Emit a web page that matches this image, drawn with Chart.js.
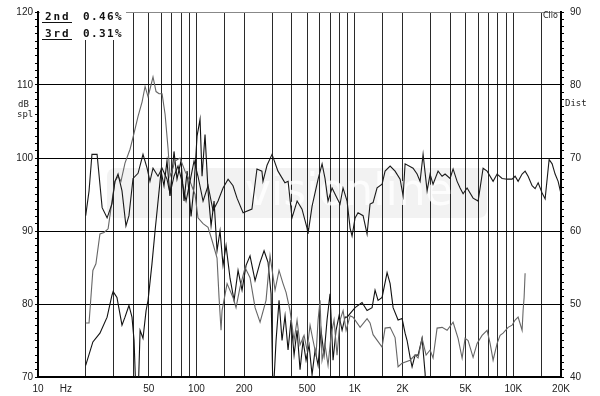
<!DOCTYPE html>
<html>
<head>
<meta charset="utf-8">
<script src="https://cdn.jsdelivr.net/npm/chart.js@4.4.1/dist/chart.umd.min.js"></script>
<style>
  html, body { margin: 0; padding: 0; background: #fff; }
  #wrap { width: 600px; height: 396px; }
</style>
</head>
<body>
<div id="wrap"><canvas id="clio"></canvas></div>
<script>
// frequency response (dB spl, left axis)
const respFreq = [20, 21, 21.9, 23.6, 25.4, 27.3, 29.3, 30.6, 32, 33.9,
  35.9, 37.5, 39.8, 42.8, 46, 48.8, 50.9, 53.2, 57.2, 60.7,
  65.2, 68.1, 72.2, 76.5, 81.1, 86, 91.1, 96.6, 102.3, 110.1,
  118.4, 127.3, 136.9, 147.2, 158.4, 170.2, 180.4, 197, 224, 241,
  259, 263, 279, 300, 327, 362, 379, 401, 432, 464,
  499, 506, 537, 586, 621, 648, 677, 718, 772, 806,
  842, 893, 933, 960, 1003, 1047, 1127, 1194, 1247, 1303,
  1381, 1485, 1551, 1669, 1794, 1930, 2016, 2075, 2330, 2470,
  2580, 2695, 2775, 2857, 2984, 3115, 3351, 3552, 3710, 3990,
  4168, 4418, 4615, 4822, 5108, 5574, 5995, 6447, 6832, 7456,
  7904, 8497, 9140, 9826, 10265, 10723, 11363, 11871, 12399, 13144,
  13728, 14350, 15200, 15880, 16830, 17580, 18360, 19180, 20000];
const respDb = [92.1, 95.5, 100.5, 100.5, 93.2, 91.8, 93.7, 96.8, 97.8, 95.5,
  90.7, 92.1, 97.2, 97.9, 100.5, 98.6, 96.8, 98.6, 97.5, 98.6,
  97.1, 95.1, 97.5, 98.9, 96.8, 94.1, 96.8, 99.6, 97.5, 94.1,
  96.2, 92.8, 94.1, 95.9, 97.1, 96.2, 94.5, 92.5, 93, 98.5,
  98.2, 96.8, 99, 100.5, 98.2, 96.6, 96.8, 91.8, 94.1, 93,
  90.4, 89.6, 93.4, 97.1, 99.2, 97.2, 94.1, 95.9, 94.5, 93.7,
  95.9, 94.1, 90.4, 89.3, 91.8, 92.5, 92.1, 89.6, 93.7, 93.9,
  95.9, 96.4, 98.2, 98.9, 98.2, 97.1, 94.8, 99.2, 98.6, 97.8,
  96.8, 100.5, 98, 95.5, 97.8, 96.4, 98.2, 97.5, 97.8, 97.2,
  98.5, 96.8, 95.9, 95.1, 95.9, 94.5, 94.1, 98.6, 98.2, 96.8,
  97.8, 97.2, 97.1, 97.1, 97.5, 96.8, 97.8, 98.2, 97.5, 96.2,
  95.8, 96.6, 95.2, 94.4, 99.8, 99.2, 97.8, 96.8, 95.1];

// 2nd harmonic (gray)
const h2Freq = [20, 21, 22.2, 23.2, 24.6, 26.1, 27.7, 29.3, 30.6, 32,
  33.4, 35.4, 38.1, 40.4, 42.8, 45.4, 47.4, 49.5, 51.7, 53.2,
  55.6, 58.1, 60.7, 63.4, 66.2, 68.1, 70.1, 73.3, 78.8, 84.7,
  91.1, 98, 102.3, 110.1, 118.4, 125.5, 134.9, 138.9, 143, 145.1,
  156.1, 170.2, 177.8, 188.5, 202.8, 217.9, 234.5, 252.1, 275, 291.5,
  313.5, 332.2, 352.1, 367.9, 389.8, 413.3, 431.6, 450.8, 477.8, 499.3,
  521.4, 544.6, 568.9, 585.8, 602.9, 620.7, 648.3, 677.2, 707.5, 738.9,
  771.8, 806.5, 842.5, 880.2, 933, 974, 1079, 1194, 1247, 1303,
  1485, 1551, 1669, 1794, 1874, 1986, 2231, 2399, 2506, 2656,
  2815, 2984, 3115, 3303, 3552, 3820, 4168, 4482, 4752, 4963,
  5184, 5574, 5908, 6353, 6832, 7137, 7456, 7904, 8254, 8622,
  9274, 9826, 10265, 10723, 11363, 11530, 11700, 11870];
const h2Db = [77.4, 77.4, 84.6, 85.5, 89.6, 89.8, 90.3, 94.1, 96.8, 97.5,
  96.8, 99.3, 101.2, 103.4, 105.7, 107.7, 109.8, 108.4, 110, 111.1,
  109.1, 108.8, 108.8, 106, 101.3, 97.5, 98.2, 99.6, 100, 98.2,
  96.8, 95, 91.8, 91, 90.5, 88.7, 86.3, 80.9, 76.4, 79.1,
  82.8, 80.9, 79.5, 82.3, 85, 83.6, 79.5, 77.5, 80.5, 86.6,
  81.9, 84.6, 82.8, 81.6, 79.1, 75, 77.8, 74.4, 75.7, 73.7,
  77.1, 75, 73, 77.8, 80.5, 72.3, 74.4, 71.6, 75.7, 77.8,
  73, 77.8, 79.1, 76.4, 78.4, 78.2, 76.8, 78, 77.4, 75.8,
  74.1, 76.7, 76.8, 75.4, 71.4, 71.9, 72.3, 73, 72.6, 75.3,
  73, 73.7, 72.6, 76.7, 76.8, 76.4, 77.5, 75.3, 72.6, 75.3,
  75, 72.7, 74.6, 75.7, 76.4, 74.6, 72.3, 74.6, 75.7, 76,
  76.8, 77.1, 77.8, 78.2, 76.4, 79.1, 80.9, 84.2];

// 3rd harmonic (black)
const h3Freq = [20, 22.2, 24.6, 27.3, 29.3, 29.8, 31.5, 33.9, 35.4, 37.5,
  39.2, 40.4, 41.6, 42.8, 44.1, 46, 48.1, 49.5, 52.4, 54.8,
  57.2, 59.8, 62.4, 65.2, 68.1, 72.2, 75.4, 79.9, 83.5, 87.3,
  92.5, 96.6, 100.9, 105.4, 108.5, 113.3, 118.4, 123.7, 129.2, 134.9,
  140.9, 147.2, 153.8, 163, 172.8, 183.1, 194, 205.7, 217.9, 234.5,
  252.1, 267.2, 283.1, 295.8, 304.5, 318.1, 332.2, 347, 362.5, 378.7,
  395.5, 413.3, 431.6, 450.8, 471, 491.9, 513.9, 536.8, 560.9, 585.8,
  611.7, 638.9, 667.4, 697.1, 728.2, 760.6, 794.8, 830.4, 867.6, 893.1,
  1003, 1110, 1194, 1284, 1341, 1401, 1485, 1597, 1669, 1743,
  1874, 1986, 2075, 2136, 2231, 2297, 2399, 2506, 2656, 2775,
  2815];
const h3Db = [71.6, 74.8, 76, 78.2, 81.2, 81.7, 80.9, 77.1, 78.2, 79.8,
  78.2, 75, 67, 67, 76.4, 75.3, 79.1, 80.5, 85.5, 90,
  94, 98.2, 96.2, 99.6, 94.8, 100.9, 97.1, 99.6, 94.1, 98.2,
  92, 96.2, 103, 105.3, 97.5, 103.2, 95.5, 90.7, 94.1, 87.3,
  90, 85.3, 88, 83.5, 80.5, 84.6, 81.9, 85.3, 86.6, 83.2,
  85.7, 87.3, 85.7, 81.4, 67, 75, 80.5, 75, 78.4, 73.7,
  77.8, 73, 76.4, 71, 75, 72.3, 74.4, 70.3, 73.7, 71.6,
  76.4, 73, 77.8, 81.4, 72.3, 76.4, 78.4, 76.4, 78.2, 78.2,
  79.5, 80.2, 79.1, 79.5, 81.9, 80.5, 80.9, 84.3, 82.8, 79.5,
  77.8, 78, 76, 75, 72.7, 71.4, 73, 73, 75.3, 70.5,
  67];

// axis
const gridFreqs = [20, 30, 40, 50, 60, 70, 80, 90, 100, 150, 200, 300, 400, 500, 600, 700, 800, 900,
  1000, 1500, 2000, 3000, 4000, 5000, 6000, 7000, 8000, 9000, 10000, 15000];
const labelFreqs = [10, 15, 50, 100, 200, 500, 1000, 2000, 5000, 10000, 20000];
const labelNames = ['10', 'Hz', '50', '100', '200', '500', '1K', '2K', '5K', '10K', '20K'];
const legendRows = [['2nd', '0.46%'], ['3rd', '0.31%']];

function pts(f, v) {
  return f.map((x, i) => ({ x: x, y: v[i] }));
}

const allTicks = Array.from(new Set(labelFreqs.concat(gridFreqs))).sort((a, b) => a - b);

Chart.defaults.font.family = 'Liberation Sans';
Chart.defaults.font.size = 10;
Chart.defaults.color = '#222';

const decor = {
  id: 'decor',
  beforeDraw(chart) {
    const c = chart.ctx;
    c.save();
    c.fillStyle = '#fff';
    c.fillRect(0, 0, chart.width, chart.height);
    c.restore();
  },
  beforeDatasetsDraw(chart) {
    // faint watermark
    const c = chart.ctx;
    c.save();
    c.fillStyle = 'rgba(0,0,0,0.05)';
    c.beginPath();
    c.roundRect(107, 168, 380, 50, 8);
    c.fill();
    c.fillStyle = 'rgba(255,255,255,0.8)';
    c.font = '44px "DejaVu Sans"';
    c.textBaseline = 'middle';
    c.fillText('visionline', 245, 194);
    c.restore();
  },
  afterDraw(chart) {
    const c = chart.ctx;
    c.save();
    // legend box
    c.fillStyle = '#fff';
    c.fillRect(40, 11, 86, 29);
    c.fillStyle = '#111';
    c.strokeStyle = '#111';
    c.lineWidth = 1;
    c.font = 'bold 11px "DejaVu Sans Mono"';
    c.textBaseline = 'alphabetic';
    legendRows.forEach((row, r) => {
      const y = 20 + r * 17;
      let x = 45;
      for (const ch of row[0]) { c.fillText(ch, x, y); x += 8.5; }
      x = 83;
      for (const ch of row[1]) { c.fillText(ch, x, y); x += 8; }
      c.beginPath();
      c.moveTo(42, y + 2.5);
      c.lineTo(72, y + 2.5);
      c.stroke();
    });
    // axis titles
    c.fillStyle = '#222';
    c.font = '9px "DejaVu Sans Mono"';
    c.fillText('dB', 18, 107);
    c.fillText('spl', 17, 117);
    c.fillText('Dist', 565, 106);
    c.font = '8px "DejaVu Sans"';
    c.fillText('Clio', 543, 18);
    c.restore();
  }
};

new Chart(document.getElementById('clio'), {
  type: 'line',
  data: {
    datasets: [
      { label: 'response', data: pts(respFreq, respDb), borderColor: '#1a1a1a', yAxisID: 'y' },
      { label: '2nd', data: pts(h2Freq, h2Db), borderColor: '#666', yAxisID: 'y' },
      { label: '3rd', data: pts(h3Freq, h3Db), borderColor: '#111', yAxisID: 'y' }
    ]
  },
  options: {
    responsive: true,
    maintainAspectRatio: false,
    animation: false,
    layout: { padding: { top: 10, left: 0, right: 0, bottom: 0 } },
    elements: {
      line: { borderWidth: 1.1, tension: 0 },
      point: { radius: 0 }
    },
    plugins: { legend: { display: false }, tooltip: { enabled: false } },
    scales: {
      x: {
        type: 'logarithmic',
        min: 10,
        max: 20000,
        afterBuildTicks: s => { s.ticks = allTicks.map(v => ({ value: v })); },
        afterFit: s => { s.height = 19; },
        ticks: {
          autoSkip: false,
          maxRotation: 0,
          padding: 2,
          callback: v => {
            const i = labelFreqs.indexOf(v);
            return i >= 0 ? labelNames[i] : '';
          }
        },
        grid: {
          color: ctx => gridFreqs.includes(ctx.tick.value) ? '#2a2a2a' : 'rgba(0,0,0,0)',
          tickColor: 'rgba(0,0,0,0)',
          tickLength: 4
        },
        border: { color: '#000', width: 2 }
      },
      y: {
        position: 'left',
        min: 70,
        max: 120,
        afterBuildTicks: s => {
          const t = [];
          for (let v = 70; v <= 120; v++) t.push({ value: v });
          s.ticks = t;
        },
        afterFit: s => { s.width = 38; },
        ticks: {
          autoSkip: false,
          padding: 2,
          callback: v => v % 10 === 0 ? String(v) : ''
        },
        grid: {
          color: ctx => {
            const v = ctx.tick.value;
            if (v === 120) return '#888';
            return (v % 10 === 0 && v > 70) ? '#000' : 'rgba(0,0,0,0)';
          },
          tickColor: '#000',
          tickLength: 3
        },
        border: { color: '#000', width: 2 }
      },
      y2: {
        position: 'right',
        min: 40,
        max: 90,
        afterBuildTicks: s => {
          const t = [];
          for (let v = 40; v <= 90; v++) t.push({ value: v });
          s.ticks = t;
        },
        afterFit: s => { s.width = 39; },
        ticks: {
          autoSkip: false,
          padding: 6,
          callback: v => v % 10 === 0 ? String(v) : ''
        },
        grid: { drawOnChartArea: false, tickColor: '#000', tickLength: 3 },
        border: { color: '#000', width: 2 }
      }
    }
  },
  plugins: [decor]
});
</script>
</body>
</html>
